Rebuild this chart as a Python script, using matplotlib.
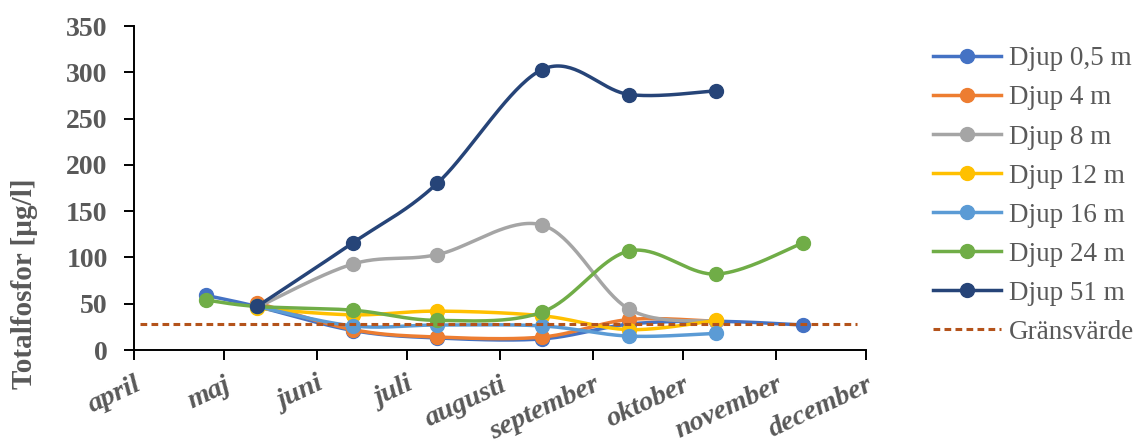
import numpy as np
import matplotlib.pyplot as plt
import matplotlib.dates as mdates
import matplotlib.transforms as mtransforms
from datetime import date

# provtagningsdatum
provdatum = [date(2019, 4, 25), date(2019, 5, 12), date(2019, 6, 13), date(2019, 7, 11),
             date(2019, 8, 15), date(2019, 9, 13), date(2019, 10, 12), date(2019, 11, 10)]

# totalfosfor per djup (µg/l), None = inget prov
djup_05 = [59, 47, 21, 13, 12, 28, 31, 27]
djup_4 = [None, 51, 22, 14, 14, 33, 31, None]
djup_8 = [None, 46, 93, 103, 135, 44, 31, None]
djup_12 = [None, 45, 38, 42, 37, 22, 32, None]
djup_16 = [None, 47, 26, 27, 26, 15, 18, None]
djup_24 = [54, 47, 43, 32, 41, 107, 82, 116]
djup_51 = [None, 47, 116, 180, 303, 276, 280, None]
gransvarde = 28

serier = ["Djup 0,5 m", "Djup 4 m", "Djup 8 m", "Djup 12 m", "Djup 16 m", "Djup 24 m", "Djup 51 m"]
varden = [djup_05, djup_4, djup_8, djup_12, djup_16, djup_24, djup_51]
farger = ["#4472C4", "#ED7D31", "#A5A5A5", "#FFC000", "#5B9BD5", "#70AD47", "#264478"]

manader = ["april", "maj", "juni", "juli", "augusti", "september", "oktober", "november", "december"]

GRA = "#595959"


def utjamna(x, y, n=40):
    # mjuk kurva som i Excel (Catmull-Rom via Bezier)
    x = np.asarray(x, float)
    y = np.asarray(y, float)
    if len(x) < 3:
        return x, y
    px = np.concatenate([[x[0]], x, [x[-1]]])
    py = np.concatenate([[y[0]], y, [y[-1]]])
    t = np.linspace(0, 1, n)
    ox, oy = [], []
    for i in range(len(x) - 1):
        x0, x1, x2, x3 = px[i:i + 4]
        y0, y1, y2, y3 = py[i:i + 4]
        c1x, c1y = x1 + (x2 - x0) / 6, y1 + (y2 - y0) / 6
        c2x, c2y = x2 - (x3 - x1) / 6, y2 - (y3 - y1) / 6
        bx = (1 - t) ** 3 * x1 + 3 * (1 - t) ** 2 * t * c1x + 3 * (1 - t) * t ** 2 * c2x + t ** 3 * x2
        by = (1 - t) ** 3 * y1 + 3 * (1 - t) ** 2 * t * c1y + 3 * (1 - t) * t ** 2 * c2y + t ** 3 * y2
        ox.append(bx)
        oy.append(by)
    return np.concatenate(ox), np.concatenate(oy)


plt.rcParams['font.family'] = ['Liberation Serif', 'DejaVu Serif']

fig = plt.figure(figsize=(11.46, 4.44), dpi=100)
ax = fig.add_axes([0.117, 0.2117, 0.639, 0.7297])

xnum = mdates.date2num(provdatum)
for namn, v, f in zip(serier, varden, farger):
    xs = [xi for xi, vi in zip(xnum, v) if vi is not None]
    ys = [vi for vi in v if vi is not None]
    sx, sy = utjamna(xs, ys)
    ax.plot(sx, sy, color=f, lw=2.5, solid_capstyle='round')
    ax.plot(xs, ys, 'o', color=f, ms=10)
    ax.plot([], [], color=f, lw=2.5, marker='o', ms=10, label=namn)

gx = mdates.date2num([date(2019, 4, 3), date(2019, 11, 28)])
ax.plot(gx, [gransvarde, gransvarde], color="#B4531B", lw=2.2, ls=(0, (2.2, 1.4)), label="Gränsvärde")

ax.set_xlim(mdates.date2num(date(2019, 4, 1)), mdates.date2num(date(2019, 12, 1)))
ax.set_ylim(0, 350)
ax.set_yticks(range(0, 351, 50))
ax.set_xticks(mdates.date2num([date(2019, m, 1) for m in range(4, 13)]))
ax.set_xticklabels(manader, rotation=25, ha='right', rotation_mode='anchor',
                   fontsize=20.5, fontweight='bold', fontstyle='italic', color=GRA)
# kursiv text sticker ut till höger, flytta den lite åt vänster
forskj = mtransforms.ScaledTranslation(-0.06, 0, fig.dpi_scale_trans)
for lbl in ax.get_xticklabels():
    lbl.set_transform(lbl.get_transform() + forskj)
for lbl in ax.get_yticklabels():
    lbl.set_fontsize(20)
    lbl.set_fontweight('bold')
    lbl.set_color(GRA)

for s in ['top', 'right']:
    ax.spines[s].set_visible(False)
for s in ['left', 'bottom']:
    ax.spines[s].set_linewidth(1.4)
ax.tick_params(axis='both', direction='out', length=7, width=1.4)
ax.tick_params(axis='x', pad=9)
ax.tick_params(axis='y', pad=12)

fig.text(0.021, 0.36, "Totalfosfor [µg/l]", rotation=90, ha='center', va='center',
         fontsize=21, fontweight='bold', color=GRA)

leg = ax.legend(loc='upper left', bbox_to_anchor=(0.805, 0.92), bbox_transform=fig.transFigure,
                frameon=False, fontsize=19.5, handlelength=2.5, labelspacing=0.52,
                handletextpad=0.3, borderaxespad=0)
for t in leg.get_texts():
    t.set_color(GRA)

fig.savefig("out.png", dpi=100)
